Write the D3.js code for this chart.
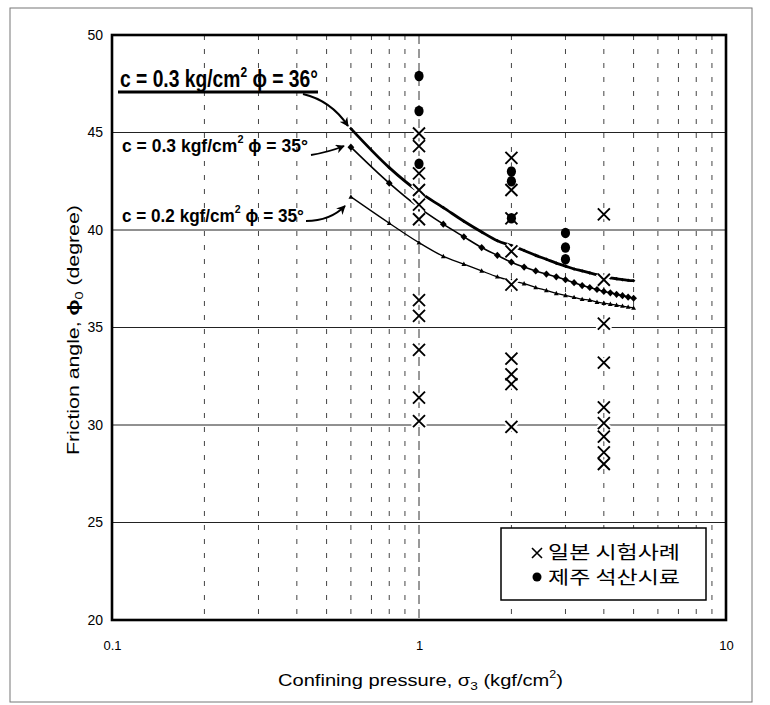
<!DOCTYPE html>
<html><head><meta charset="utf-8">
<script src="https://cdn.jsdelivr.net/npm/d3@7"></script>
<style>body{margin:0;background:#fff} svg{display:block}</style>
</head><body>
<svg id="c" width="770" height="705"></svg>
<script>
// ---------- data ----------
const xTicks = [0.1, 1, 10];
const xTickLabels = ["0.1", "1", "10"];
const yTicks = [20, 25, 30, 35, 40, 45, 50];
const sigma = [0.6,0.8,1.0,1.2,1.4,1.6,1.8,2.0,2.2,2.4,2.6,2.8,3.0,3.2,3.4,3.6,3.8,4.0,4.2,4.4,4.6,4.8,5.0];
const phiC03F36 = [45.2,43.2,41.95,41.15,40.45,39.9,39.45,39.2,38.95,38.7,38.5,38.3,38.15,38.0,37.9,37.8,37.7,37.6,37.55,37.5,37.45,37.42,37.4];
const phiC03F35 = [44.25,42.4,41.15,40.3,39.65,39.1,38.7,38.35,38.1,37.9,37.74,37.6,37.45,37.3,37.15,37.05,36.95,36.85,36.78,36.7,36.63,36.56,36.5];
const phiC02F35 = [41.7,40.35,39.35,38.65,38.25,37.9,37.6,37.4,37.25,37.05,36.9,36.75,36.65,36.55,36.45,36.4,36.3,36.25,36.2,36.15,36.1,36.05,36.0];
const japanSigma = [1,1,1,1,1,1,1,1,1,1,1, 2,2,2,2,2,2,2,2,2, 4,4,4,4,4,4,4,4,4];
const japanPhi = [44.95,44.3,42.9,42.05,41.3,40.55,36.4,35.6,33.85,31.4,30.2,
                  43.7,42.05,40.6,38.9,37.2,33.4,32.6,32.1,29.9,
                  40.8,37.45,35.2,33.2,30.9,30.1,29.4,28.6,28.0];
const jejuSigma = [1,1,1,2,2,2,3,3,3];
const jejuPhi = [47.9,46.1,43.4,43.0,42.5,40.6,39.85,39.1,38.5];
const legendLabels = ["일본 시험사례", "제주 석산시료"];

// ---------- layout ----------
const svg = d3.select("#c");
const L = 112, R = 726, T = 35, B = 620;
const x = d3.scaleLog().domain([0.1, 10]).range([L, R]);
const y = d3.scaleLinear().domain([20, 50]).range([B, T]);
const FONT = "'Liberation Sans', Arial, Helvetica, sans-serif";
const NARROW = "'Liberation Sans Narrow','Liberation Sans', Arial, sans-serif";

// outer frame
svg.append("rect").attr("x", 10).attr("y", 8).attr("width", 742).attr("height", 694)
  .attr("fill", "none").attr("stroke", "#777").attr("stroke-width", 1);

// grid
const grid = svg.append("g");
x.ticks().filter(d => d > 0.1 && d < 10 && Math.abs(d - 1) > 1e-9).forEach(d => {
  grid.append("line").attr("x1", x(d)).attr("x2", x(d)).attr("y1", T).attr("y2", B)
    .attr("stroke", "#444").attr("stroke-width", 1).attr("stroke-dasharray", "5,9");
});
grid.append("line").attr("x1", x(1)).attr("x2", x(1)).attr("y1", T).attr("y2", B)
  .attr("stroke", "#333").attr("stroke-width", 1).attr("stroke-dasharray", "9,5");
yTicks.filter(d => d > 20 && d < 50).forEach(d => {
  grid.append("line").attr("x1", L).attr("x2", R).attr("y1", y(d)).attr("y2", y(d))
    .attr("stroke", "#222").attr("stroke-width", 1);
});

// axes (labels only)
const ya = svg.append("g").attr("transform", `translate(${L},0)`)
  .call(d3.axisLeft(y).tickValues(yTicks).tickSize(0).tickPadding(9));
ya.select(".domain").remove();
ya.selectAll("text").attr("font-size", 14).attr("font-family", FONT).attr("fill", "#000");
const xa = svg.append("g").attr("transform", `translate(0,${B})`)
  .call(d3.axisBottom(x).tickValues(xTicks).tickSize(0).tickPadding(21).tickFormat((d, i) => xTickLabels[i]));
xa.select(".domain").remove();
xa.selectAll("text").attr("font-size", 13).attr("font-family", FONT).attr("fill", "#000");

// curves
const lineGen = d3.line().x(d => x(d[0])).y(d => y(d[1])).curve(d3.curveMonotoneX);
const curves = [
  {v: phiC03F36, w: 2.8, mk: "M0,-1.8L1.8,0L0,1.8L-1.8,0Z"},
  {v: phiC03F35, w: 1.6, mk: "M0,-3.6L3.4,0L0,3.6L-3.4,0Z"},
  {v: phiC02F35, w: 1.3, mk: "M0,-2.6L2.4,1.8L-2.4,1.8Z"}
];
const cg = svg.append("g");
curves.forEach(c => {
  const pts = sigma.map((s, i) => [s, c.v[i]]);
  cg.append("path").attr("d", lineGen(pts)).attr("fill", "none").attr("stroke", "#000").attr("stroke-width", c.w);
  cg.selectAll(null).data(pts).enter().append("path").attr("d", c.mk)
    .attr("transform", d => `translate(${x(d[0])},${y(d[1])})`).attr("fill", "#000");
});

// Japanese cases (X) with white halo
const jp = japanSigma.map((s, i) => [s, japanPhi[i]]);
const XP = "M-6,-6L6,6M6,-6L-6,6";
const dg = svg.append("g");
dg.selectAll(".halo").data(jp).enter().append("path").attr("d", XP)
  .attr("transform", d => `translate(${x(d[0])},${y(d[1])})`)
  .attr("stroke", "#fff").attr("stroke-width", 6).attr("fill", "none");
dg.selectAll(".xm").data(jp).enter().append("path").attr("d", XP)
  .attr("transform", d => `translate(${x(d[0])},${y(d[1])})`)
  .attr("stroke", "#000").attr("stroke-width", 1.9).attr("fill", "none");
// Jeju samples (dots)
const jj = jejuSigma.map((s, i) => [s, jejuPhi[i]]);
dg.selectAll(".dot").data(jj).enter().append("ellipse")
  .attr("cx", d => x(d[0])).attr("cy", d => y(d[1])).attr("rx", 4.6).attr("ry", 5.2).attr("fill", "#000");

// plot border
svg.append("rect").attr("x", L).attr("y", T).attr("width", R - L).attr("height", B - T)
  .attr("fill", "none").attr("stroke", "#000").attr("stroke-width", 2.6);

// rich text helper
function rich(parts, size, weight, family) {
  const g = svg.append("g");
  const t = g.append("text").attr("font-size", size).attr("font-weight", weight).attr("font-family", family).attr("fill", "#000");
  let shift = 0;
  parts.forEach(p => {
    const ts = t.append("tspan").text(p.t);
    let target = 0;
    if (p.sup) { ts.attr("font-size", size * 0.62); target = -size * 0.45; }
    if (p.sub) { ts.attr("font-size", size * 0.68); target = size * 0.22; }
    if (p.b) ts.attr("font-weight", "bold");
    if (target - shift !== 0) ts.attr("dy", target - shift);
    shift = target;
  });
  return {g, t};
}
function fit(o, x0, yb, w, rot) {
  const cw = o.t.node().getComputedTextLength();
  if (rot) o.g.attr("transform", `translate(${x0},${yb}) rotate(-90) scale(${w / cw},1)`);
  else o.g.attr("transform", `translate(${x0},${yb}) scale(${w / cw},1)`);
}

// annotations
const a1 = rich([{t: "c = 0.3 kg/cm"}, {t: "2", sup: 1}, {t: " \u03D5 = 36\u00B0"}], 23, "bold", NARROW);
fit(a1, 120, 87, 198);
svg.append("line").attr("x1", 118).attr("x2", 318).attr("y1", 92).attr("y2", 92).attr("stroke", "#000").attr("stroke-width", 3);
const a2 = rich([{t: "c = 0.3 kgf/cm"}, {t: "2", sup: 1}, {t: " \u03D5 = 35\u00B0"}], 19, "bold", NARROW);
fit(a2, 122, 152, 186);
const a3 = rich([{t: "c = 0.2 kgf/cm"}, {t: "2", sup: 1}, {t: " \u03D5 = 35\u00B0"}], 19, "bold", NARROW);
fit(a3, 122, 222, 182);

// arrows
const defs = svg.append("defs");
defs.append("marker").attr("id", "ah").attr("viewBox", "0 0 10 10").attr("refX", 9).attr("refY", 5)
  .attr("markerWidth", 9).attr("markerHeight", 9).attr("markerUnits", "userSpaceOnUse").attr("orient", "auto")
  .append("path").attr("d", "M0,0L10,5L0,10L3,5Z").attr("fill", "#000");
[["M303,94 C320,98 336,108 348,126", 2.2], ["M311,155 Q329,152 344,146", 1.8], ["M306,221 Q330,221 345,206", 1.8]].forEach(a => {
  svg.append("path").attr("d", a[0]).attr("fill", "none").attr("stroke", "#000").attr("stroke-width", a[1]).attr("marker-end", "url(#ah)");
});

// legend
const lg = svg.append("g");
lg.append("rect").attr("x", 501).attr("y", 528).attr("width", 205).attr("height", 72)
  .attr("fill", "#fff").attr("stroke", "#000").attr("stroke-width", 1.5);
lg.append("path").attr("d", "M-5,-5L5,5M5,-5L-5,5").attr("transform", "translate(537,553)")
  .attr("stroke", "#000").attr("stroke-width", 1.6).attr("fill", "none");
lg.append("circle").attr("cx", 537).attr("cy", 577).attr("r", 4.5).attr("fill", "#000");
legendLabels.forEach((s, i) => {
  const t = lg.append("text").attr("x", 548).attr("y", 559 + i * 25).text(s)
    .attr("font-size", 18).attr("font-family", "'Noto Sans CJK KR', sans-serif").attr("fill", "#000");
  t.attr("textLength", 132).attr("lengthAdjust", "spacingAndGlyphs");
});

// axis titles
const xt = rich([{t: "Confining pressure, \u03C3"}, {t: "3", sub: 1}, {t: " (kgf/cm"}, {t: "2", sup: 1}, {t: ")"}], 17, "normal", FONT);
fit(xt, 278, 686, 285);
const yt = rich([{t: "Friction angle,  "}, {t: "\u03D5", b: 1}, {t: "0", sub: 1}, {t: " (degree)"}], 17, "normal", FONT);
fit(yt, 79, 455, 250, true);
</script>
</body></html>
